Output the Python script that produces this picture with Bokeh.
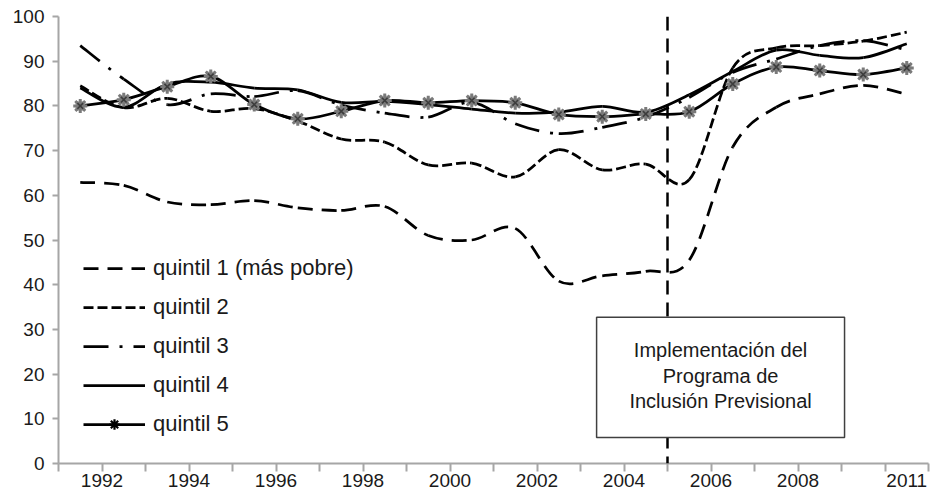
from bokeh.plotting import figure
from bokeh.models import (ColumnDataSource, Range1d, FixedTicker, SingleIntervalTicker,
                          Span, BoxAnnotation, Label, Legend, LegendItem)
from bokeh.embed import file_html
from bokeh.resources import INLINE

# ---- data -------------------------------------------------------------
waves = [0, 1, 2, 3, 4, 5, 6, 7, 8, 9, 10, 11, 12, 13, 14, 15, 16, 17, 18, 19]
tick_positions = [0.5, 2.5, 4.5, 6.5, 8.5, 10.5, 12.5, 14.5, 16.5, 19]
tick_labels = ["1992", "1994", "1996", "1998", "2000", "2002", "2004", "2006", "2008", "2011"]
program_start = 13.5

q1 = [62.9, 62.2, 58.5, 57.9, 58.8, 57.2, 56.6, 57.5, 51.0, 50.0,
      52.6, 40.8, 42.0, 43.0, 45.5, 70.8, 79.7, 82.7, 84.6, 82.6]
q2 = [84.5, 79.6, 81.7, 78.8, 79.4, 76.6, 72.6, 71.9, 66.8, 67.2,
      64.1, 70.2, 65.7, 67.0, 63.5, 88.5, 93.0, 93.5, 94.5, 96.5]
q3 = [93.5, 86.0, 80.3, 82.7, 82.1, 83.4, 80.2, 78.4, 77.5, 80.8,
      76.0, 73.8, 75.2, 77.5, 81.9, 87.5, 90.5, 93.5, 94.6, 92.5]
q4 = [84.0, 79.7, 84.9, 85.3, 84.0, 83.6, 80.8, 81.0, 80.3, 79.3,
      78.4, 78.6, 79.9, 78.6, 82.5, 87.7, 92.5, 91.3, 90.8, 93.9]
q5 = [80.0, 81.4, 84.3, 86.6, 80.3, 77.1, 78.8, 81.2, 80.7, 81.2,
      80.7, 78.1, 77.6, 78.2, 78.7, 84.9, 88.7, 87.9, 87.0, 88.5]

labels = ["quintil 1 (más pobre)", "quintil 2", "quintil 3", "quintil 4", "quintil 5"]
box_text = ["Implementación del", "Programa de", "Inclusión Previsional"]

FONT = "Liberation Sans"
TXT = "#1a1a1a"
AX = "#a6a6a6"
NAN = float("nan")


def smooth_segments(xs, ys):
    """Cubic Bezier segments through the data points (Excel-style smoothing)."""
    n = len(xs)
    d = dict(x0=[], y0=[], x1=[], y1=[], cx0=[], cy0=[], cx1=[], cy1=[])
    for i in range(n - 1):
        xp, yp = (xs[i - 1], ys[i - 1]) if i > 0 else (xs[i], ys[i])
        xn, yn = (xs[i + 2], ys[i + 2]) if i + 2 < n else (xs[i + 1], ys[i + 1])
        d["x0"].append(xs[i]); d["y0"].append(ys[i])
        d["x1"].append(xs[i + 1]); d["y1"].append(ys[i + 1])
        d["cx0"].append(xs[i] + (xs[i + 1] - xp) / 6.0)
        d["cy0"].append(ys[i] + (ys[i + 1] - yp) / 6.0)
        d["cx1"].append(xs[i + 1] - (xn - xs[i]) / 6.0)
        d["cy1"].append(ys[i + 1] - (yn - ys[i]) / 6.0)
    return ColumnDataSource(d)


p = figure(frame_width=870, frame_height=447,
           min_border_left=58, min_border_right=3, min_border_top=16, min_border_bottom=37,
           x_range=Range1d(-0.5, 19.5), y_range=Range1d(0, 100),
           output_backend="svg", toolbar_location=None)
p.outline_line_color = None
p.grid.visible = False
p.background_fill_color = "white"
p.border_fill_color = "white"

# ---- axes -------------------------------------------------------------
bounds = [-0.5] + [w + 0.5 for w in waves]
xa = p.xaxis[0]
xa.ticker = FixedTicker(ticks=tick_positions, minor_ticks=bounds)
xa.major_label_overrides = {t: l for t, l in zip(tick_positions, tick_labels)}
xa.major_tick_out = 0
xa.major_tick_in = 0
xa.minor_tick_out = 8
xa.minor_tick_in = 0
xa.minor_tick_line_color = AX
xa.minor_tick_line_width = 2
xa.axis_line_color = AX
xa.axis_line_width = 2
xa.major_label_standoff = 2
xa.major_label_text_font = FONT
xa.major_label_text_font_size = "19px"
xa.major_label_text_color = TXT

ya = p.yaxis[0]
ya.ticker = SingleIntervalTicker(interval=10, num_minor_ticks=0)
ya.axis_line_color = AX
ya.axis_line_width = 2
ya.major_tick_line_color = AX
ya.major_tick_line_width = 2
ya.major_tick_out = 6
ya.major_tick_in = 0
ya.minor_tick_out = 0
ya.minor_tick_in = 0
ya.major_label_standoff = 8
ya.major_label_text_font = FONT
ya.major_label_text_font_size = "19px"
ya.major_label_text_color = TXT

# ---- series -----------------------------------------------------------
LW = 2.75
styles = [
    dict(line_dash="15 9"),
    dict(line_dash="10 4"),
    dict(line_dash="25 11 3 11"),
    dict(line_dash="solid"),
    dict(line_dash="solid"),
]
series = [q1, q2, q3, q4, q5]
for vals, st in zip(series, styles):
    p.bezier(x0="x0", y0="y0", x1="x1", y1="y1", cx0="cx0", cy0="cy0", cx1="cx1", cy1="cy1",
             source=smooth_segments(waves, vals), line_color="black", line_width=LW, **st)

p.scatter(waves, q5, marker="square", size=10, fill_color="#b4b4b4", line_color=None, fill_alpha=0.8)
p.scatter(waves, q5, marker="asterisk", size=14, line_color="#7a7a7a", line_width=3)
p.scatter(waves, q5, marker="x", size=8, line_color="#3c3c3c", line_width=1.6)

# ---- annotation ---------------------------------------------------------
p.add_layout(Span(location=program_start, dimension="height", line_color="black",
                  line_width=2.5, line_dash="14 8"))
p.add_layout(BoxAnnotation(left=11.87, right=17.57, bottom=5.8, top=32.7,
                           fill_color="white", fill_alpha=1.0,
                           line_color="#404040", line_width=1.5, line_alpha=1.0))
for txt, yb in zip(box_text, [25.3, 19.5, 13.9]):
    p.add_layout(Label(x=14.72, y=yb, text=txt, text_align="center",
                       text_baseline="alphabetic", text_font=FONT,
                       text_font_size="20px", text_color=TXT))

# ---- legend -------------------------------------------------------------
leg_renderers = []
for st in styles:
    leg_renderers.append([p.line(x=[NAN], y=[NAN], line_color="black", line_width=LW, **st)])
leg_renderers[4].append(p.scatter(x=[NAN], y=[NAN], marker="asterisk", size=15,
                                  line_color="black", line_width=2.2))
legend = Legend(items=[LegendItem(label=l, renderers=r, index=0) for l, r in zip(labels, leg_renderers)],
                location=(25, 26), glyph_width=62, glyph_height=26, label_height=26,
                spacing=13, label_standoff=8, padding=0, margin=0,
                border_line_alpha=0, background_fill_alpha=0,
                label_text_font=FONT, label_text_font_size="22px", label_text_color=TXT)
p.add_layout(legend, "center")

open("out.html", "w").write(file_html(p, INLINE))
